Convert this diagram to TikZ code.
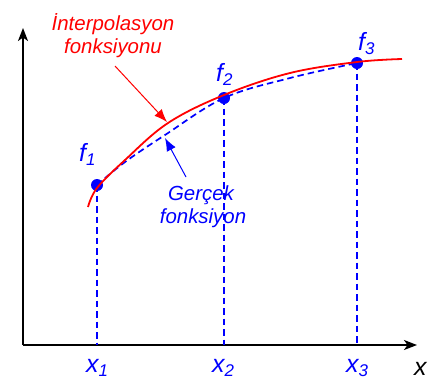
\documentclass[tikz,border=0pt]{standalone}
\usepackage{fontspec}
\setmainfont{Liberation Sans}
\usetikzlibrary{arrows.meta}
\newcommand\sublab[2]{#1\raisebox{-4.5bp}{\fontsize{17}{17}\selectfont #2}}
\tikzset{
  axis/.style={line width=1.8bp,-{Stealth[length=13bp,width=10bp,inset=3.5bp]}},
  lbl/.style={font=\fontsize{25}{27}\selectfont\itshape,inner sep=0pt,anchor=base west},
  blbl/.style={lbl,text=blue},
  drop/.style={blue,line width=1.7bp,dash pattern=on 6.5bp off 4bp},
  pt/.style={circle,fill=blue,inner sep=0pt,minimum size=12bp},
  note/.style={font=\fontsize{20.5}{22}\selectfont\itshape,inner sep=0pt,anchor=base},
  pointer/.style={line width=1bp,-{Latex[length=13bp,width=10bp]}}
}
\begin{document}
\begin{tikzpicture}[x=1bp,y=-1bp]
\useasboundingbox (0,0) rectangle (448,379);
% axes
\coordinate (O) at (23,345);
\coordinate (Ytop) at (23,28);
\coordinate (Xend) at (417,345);
\draw[axis] (O) -- (Ytop);
\draw[axis] (O) -- (Xend);
% data points
\node[pt] (p1) at (97,185) {};
\node[pt] (p2) at (224,98) {};
\node[pt] (p3) at (357,63) {};
\coordinate (b1) at (97,345);
\coordinate (b2) at (224,345);
\coordinate (b3) at (357,345);
\draw[drop] (p1.center) -- (b1);
\draw[drop] (p2.center) -- (b2);
\draw[drop] (p3.center) -- (b3);
% true function (dashed blue)
\draw[drop] plot[smooth,tension=0.6] coordinates {(97,185) (125,162) (165,135) (224,98) (290,78) (357,63)};
% interpolation function (red)
\draw[red,line width=1.8bp] plot[smooth,tension=0.6] coordinates {(88,207) (97,188) (125,160) (168,123) (224,95) (290,73) (357,62) (402,59)};
% labels
\node[blbl] (f1) at (79,161) {\sublab{f}{1}};
\node[blbl] (f2) at (216,81) {\sublab{f}{2}};
\node[blbl] (f3) at (358,50) {\sublab{f}{3}};
\node[blbl] (x1) at (86,372) {\sublab{x}{1}};
\node[blbl] (x2) at (212,372) {\sublab{x}{2}};
\node[blbl] (x3) at (346,372) {\sublab{x}{3}};
\node[lbl] (xl) at (414,375) {x};
% notes
\node[note,text=red] (i1) at (113,30) {İnterpolasyon};
\node[note,text=red] (i2) at (113,53) {fonksiyonu};
\node[note,text=blue] (g1) at (201,200) {Gerçek};
\node[note,text=blue] (g2) at (203,223) {fonksiyon};
\coordinate (rs) at (115,66);
\coordinate (re) at (167,122);
\coordinate (bs) at (186,177);
\coordinate (be) at (165,138);
\draw[pointer,red] (rs) -- (re);
\draw[pointer,blue] (bs) -- (be);
\end{tikzpicture}
\end{document}
